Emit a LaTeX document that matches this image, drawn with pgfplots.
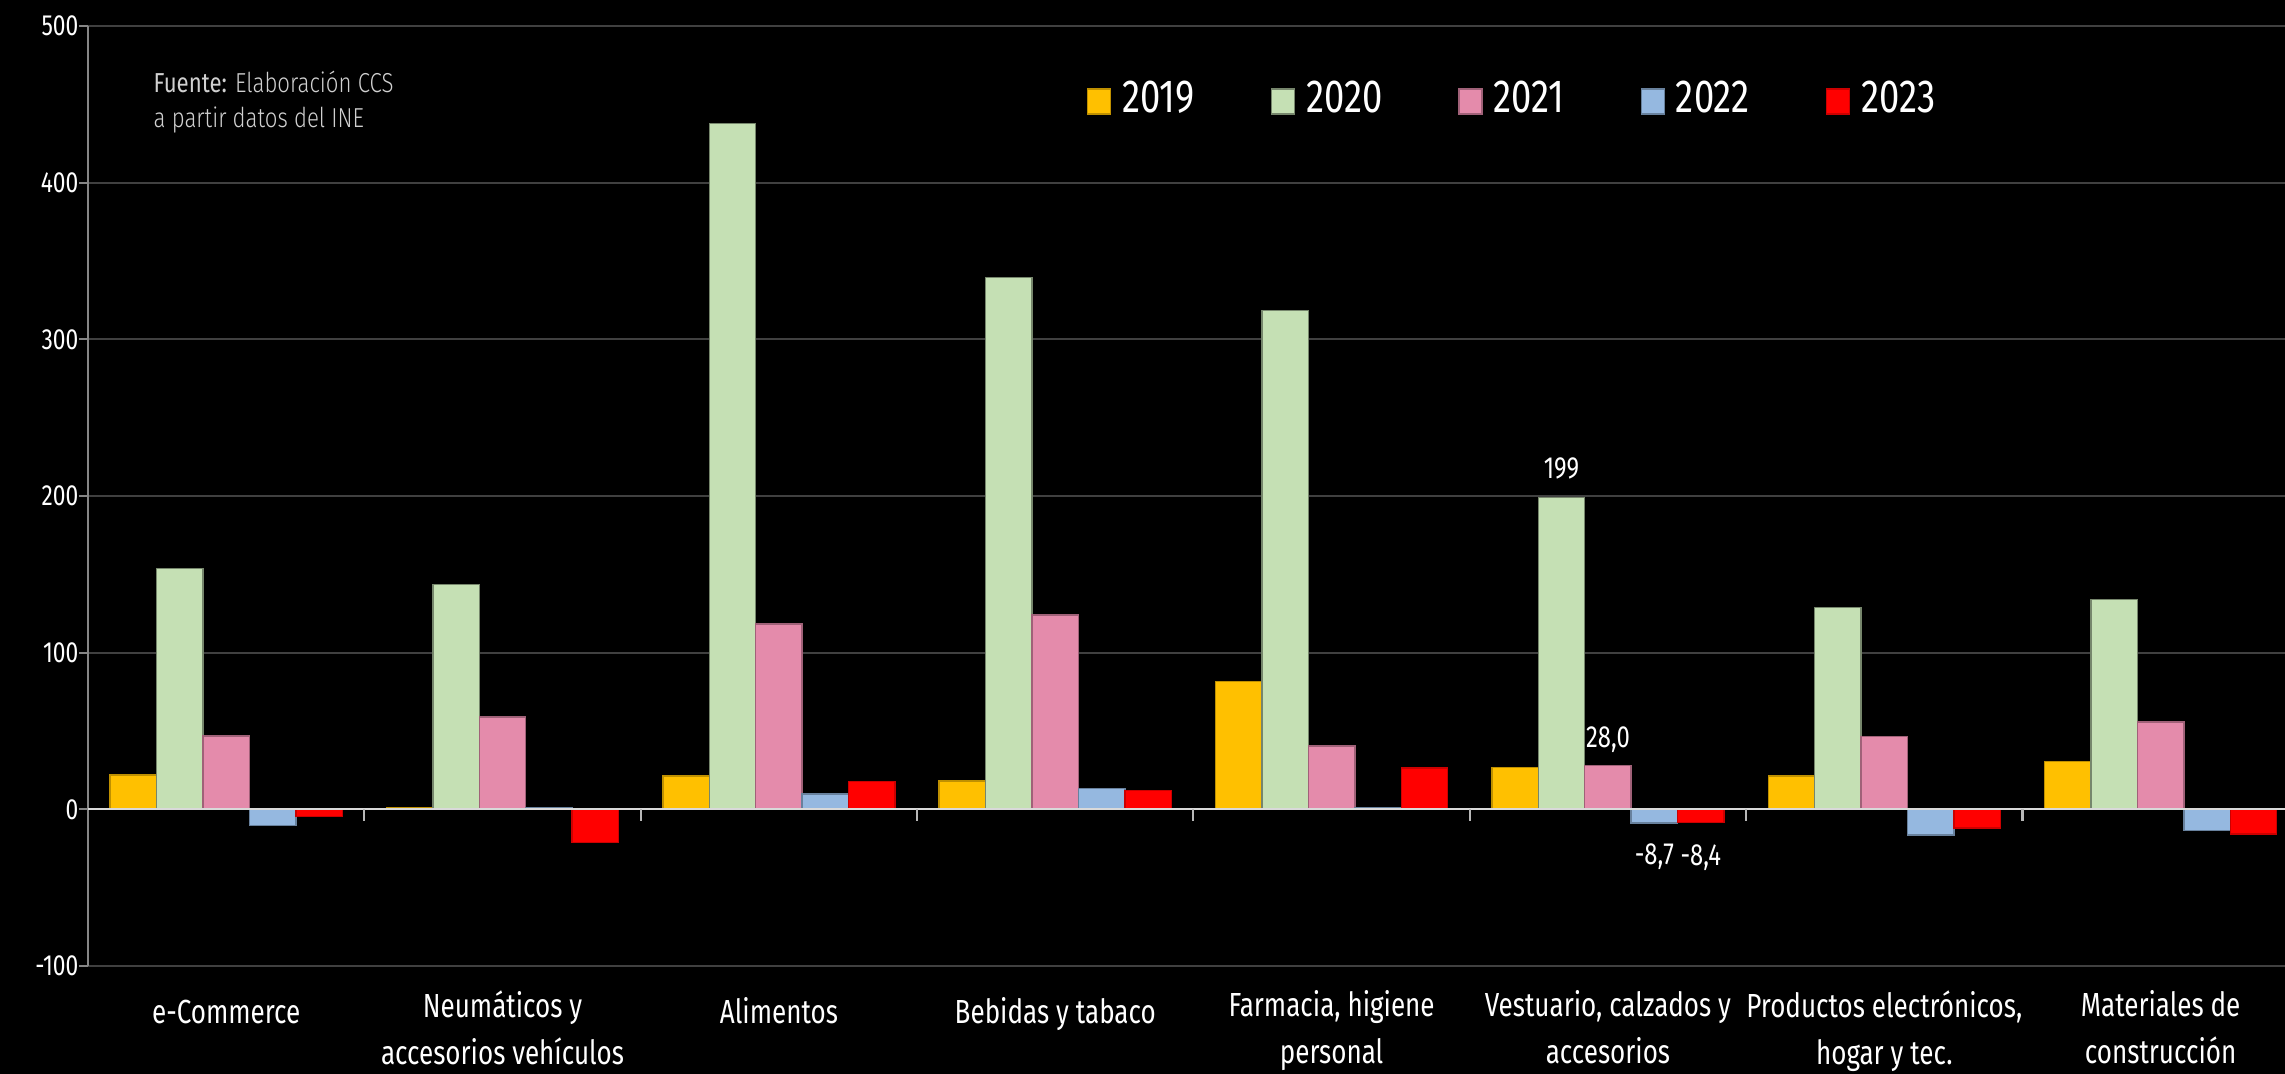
\documentclass[border=0pt]{standalone}
\usepackage{fontspec}
\setmainfont{Fira Sans}[FakeStretch=0.78]
\newfontfamily\legfont{Fira Sans}[FakeStretch=0.785]
\newfontfamily\srclight{Fira Sans Light}[FakeStretch=0.81]
\newfontfamily\srcreg{Fira Sans}[FakeStretch=0.81]
\usepackage{pgfplots}
\pgfplotsset{compat=1.18}
\definecolor{c19}{HTML}{FFC000}
\definecolor{c20}{HTML}{C5E0B4}
\definecolor{c21}{HTML}{E48BAB}
\definecolor{c22}{HTML}{95B8E0}
\definecolor{c23}{HTML}{FF0000}
\definecolor{gridc}{HTML}{404040}
\definecolor{axc}{HTML}{868686}
\definecolor{zeroc}{HTML}{D9D9D9}
\definecolor{srcc}{HTML}{D0D0D0}
\begin{document}
\begin{tikzpicture}
\path[use as bounding box] (-0.88cm,-1.08cm) rectangle (21.97cm,9.66cm);
\fill[black] (-0.88cm,-1.08cm) rectangle (21.97cm,9.66cm);
\begin{axis}[
  at={(0,0)}, anchor=south west,
  scale only axis, width=21.97cm, height=9.40cm,
  xmin=-0.5, xmax=7.45, ymin=-100, ymax=500,
  ybar=0pt, bar width=0.168,
  axis lines*=left,
  x axis line style={draw=none},
  y axis line style={draw=axc, line width=0.6pt},
  ytick={-100,0,100,200,300,400,500},
  ymajorgrids, grid style={draw=gridc, line width=0.6pt},
  ytick style={draw=axc, line width=0.6pt},
  tick align=outside, major tick length=0.09cm,
  xtick={0,1,2,3,4,5,6,7},
  xtick style={draw=none},
  xticklabels={e-Commerce,{Neumáticos y\\accesorios vehículos},Alimentos,Bebidas y tabaco,{Farmacia, higiene\\personal},{Vestuario, calzados y\\accesorios},{Productos electrónicos,\\hogar y tec.},{Materiales de\\construcción}},
  xticklabel style={align=center, anchor=north, inner sep=0pt, text=white, font=\fontsize{9.5}{13.5}\selectfont, execute at begin node=\strut, yshift=-0.148cm},
  yticklabel style={anchor=east, inner sep=0pt, text=white, font=\fontsize{8.3}{10}\selectfont},
  /pgf/number format/assume math mode=true,
  legend columns=5,
  legend image code/.code={\fill[#1] (0cm,-0.145cm) rectangle (0.23cm,0.105cm);},
  legend style={at={(0.4547,0.9412)}, anchor=north west, draw=none, fill=none,
    inner sep=0pt, outer sep=0pt, text=white, font=\legfont\fontsize{13.2}{15}\selectfont,
    nodes={inner sep=0pt},
    /tikz/every odd column/.append style={column sep=0.11cm},
    /tikz/every even column/.append style={column sep=0.76cm}},
  legend cell align=left,
]
\addplot[fill=c19, draw=c19!75!black, line width=0.4pt] coordinates {(0,21.8) (1,0.9) (2,21.4) (3,18.2) (4,81.6) (5,26.8) (6,21.2) (7,30.6)};
\addplot[fill=c20, draw=c20!60!black, line width=0.4pt] coordinates {(0,153.7) (1,143.5) (2,437.9) (3,339.4) (4,318.4) (5,199) (6,128.7) (7,133.8)};
\addplot[fill=c21, draw=c21!70!black, line width=0.4pt] coordinates {(0,46.9) (1,58.9) (2,118.2) (3,124) (4,40.5) (5,28.0) (6,46.5) (7,55.7)};
\addplot[fill=c22, draw=c22!70!black, line width=0.4pt] coordinates {(0,-10.5) (1,1.3) (2,9.9) (3,13.3) (4,0.9) (5,-8.7) (6,-16.3) (7,-13.7)};
\addplot[fill=c23, draw=c23!80!black, line width=0.4pt] coordinates {(0,-4.7) (1,-21.2) (2,17.6) (3,12.2) (4,26.3) (5,-8.4) (6,-11.8) (7,-15.8)};
\legend{2019,2020,2021,2022,2023}
\draw[zeroc, line width=0.6pt] (axis cs:-0.5,0) -- (axis cs:7.45,0);
\pgfplotsinvokeforeach{0.5,1.5,2.5,3.5,4.5,5.5,6.5}{\draw[zeroc!85!black, line width=0.6pt] (axis cs:#1,0) -- ([yshift=-0.12cm]axis cs:#1,0);}
\node[anchor=base, text=white, inner sep=0pt, font=\fontsize{8.7}{10}\selectfont, yshift=0.19cm] at (axis cs:4.832,199) {199};
\node[anchor=base, text=white, inner sep=0pt, font=\fontsize{8.7}{10}\selectfont, yshift=0.18cm] at (axis cs:5,28.0) {28,0};
\node[anchor=base, text=white, inner sep=0pt, font=\fontsize{8.7}{10}\selectfont, yshift=-0.42cm] at (axis cs:5.168,-8.7) {-8,7};
\node[anchor=base, text=white, inner sep=0pt, font=\fontsize{8.7}{10}\selectfont, yshift=-0.43cm] at (axis cs:5.336,-8.4) {-8,4};
\node[anchor=base west, align=left, inner sep=0pt, text=srcc, font=\srclight\fontsize{7.8}{10}\selectfont, xshift=0.65cm, yshift=-1.02cm] at (rel axis cs:0,1) {{\srcreg\fontsize{7.8}{10}\selectfont Fuente:} Elaboración CCS\\a partir datos del INE};
\end{axis}
\end{tikzpicture}
\end{document}
